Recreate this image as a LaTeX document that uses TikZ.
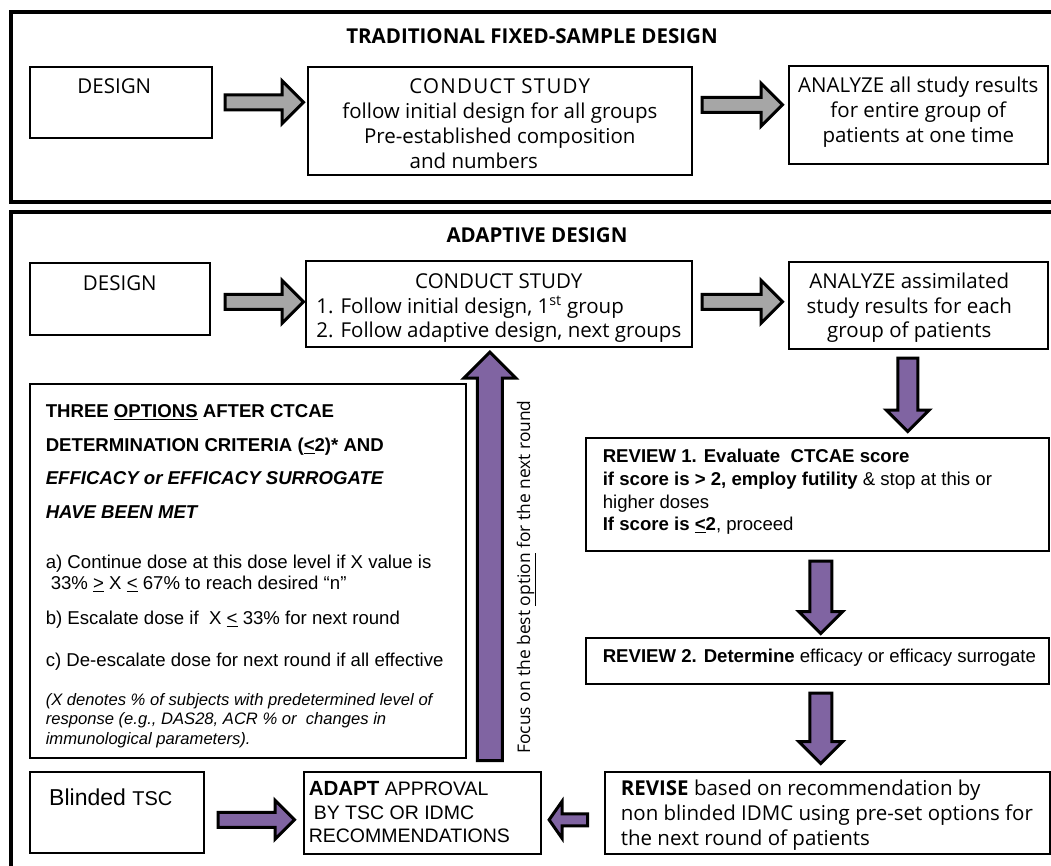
\documentclass[tikz,border=0pt]{standalone}
\usepackage{fontspec}
\setmainfont{Open Sans}
\newfontfamily\arial{Liberation Sans}
\usetikzlibrary{calc,shapes.arrows}

\definecolor{arrowgray}{RGB}{166,166,166}
\definecolor{arrowpurple}{RGB}{128,100,162}

% text block of a box: width, height, first baseline, text
\newcommand{\boxtext}[4]{\parbox[t][#2][t]{#1}{\rule{0pt}{#3}#4}}
\newcommand{\osize}{\fontsize{20.5}{25}\selectfont}
\newcommand{\asize}{\arial\fontsize{18.6}{22.7}\selectfont}

\begin{document}
\begin{tikzpicture}[x=1pt, y=-1pt,
    boxnode/.style={draw, line width=1.6pt, inner xsep=0pt, inner ysep=0pt, anchor=north west},
    frameline/.style={draw, line width=4pt},
    blockarrow/.style={to path={
        let \p1=(\tikztostart), \p2=(\tikztotarget),
            \n1={veclen(\x2-\x1,\y2-\y1)}, \n2={atan2(\y2-\y1,\x2-\x1)} in
        node[single arrow, draw=black, line width=3pt, inner sep=0pt, #1,
             minimum height=\n1, rotate=\n2, anchor=tail] at (\p1) {}}},
    grayarrow/.style={blockarrow={fill=arrowgray, inner ysep=6pt, single arrow head extend=14pt}}]
    \useasboundingbox (0,0) rectangle (1051,865);

    % Frames
    \draw[frameline] (11,12) rectangle (1070,202);
    \draw[frameline] (11,212) rectangle (1070,900);

    % Traditional fixed-sample design
    \node[anchor=base, font=\bfseries\osize] (title1) at (532,43) {TRADITIONAL FIXED-SAMPLE DESIGN};
    \node[boxnode] (d1) at (29,66) {\boxtext{182pt}{71pt}{27pt}{\centering\osize DESIGN\hspace*{13pt}}};
    \node[boxnode] (c1) at (307,66) {\boxtext{384pt}{108pt}{27pt}{\centering\osize
        {\addfontfeature{LetterSpace=6}CONDUCT STUDY}\hspace*{47pt}\\
        follow initial design for all groups\hspace*{18pt}\\
        Pre-established composition\hspace*{12pt}\\
        and numbers\hspace*{52pt}}};
    \node[boxnode] (a1) at (788,65) {\boxtext{259pt}{98pt}{27pt}{\centering\osize ANALYZE all study results\\
        for entire group of\\ patients at one time}};

    % Adaptive design
    \node[anchor=base, font=\bfseries\osize] (title2) at (537,242) {ADAPTIVE DESIGN};
    \node[boxnode] (d2) at (29,262) {\boxtext{180pt}{72pt}{28pt}{\centering\osize DESIGN}};
    \node[boxnode] (c2) at (305,260) {\boxtext{386pt}{86pt}{28pt}{\centering\fontsize{20.5}{24.5}\selectfont
        CONDUCT STUDY\hspace*{19pt}\\
        \begin{tabular}[t]{@{}l@{}}1. Follow initial design, 1\textsuperscript{st} group\\
        2. Follow adaptive design, next groups\end{tabular}}};
    \node[boxnode] (a2) at (788,261) {\boxtext{259pt}{87pt}{27pt}{\centering\advance\rightskip 18pt
        \fontsize{20.5}{24.5}\selectfont ANALYZE assimilated\\
        study results for each\\ group of patients}};

    \node[boxnode, inner xsep=16pt] (opt) at (29,383) {\boxtext{404pt}{374pt}{34pt}{\raggedright
        \arial\fontsize{18.6}{33.5}\selectfont\bfseries THREE \underline{OPTIONS} AFTER CTCAE\\
        DETERMINATION CRITERIA (\underline{<}2)* AND\\
        \itshape EFFICACY or EFFICACY SURROGATE\\
        HAVE BEEN MET\par\vspace{29pt}
        \fontsize{18.6}{21}\selectfont\mdseries\upshape a) Continue dose at this dose level if X value is\\
        \hspace*{5pt}33\% \underline{>} X \underline{<} 67\% to reach desired “n”\par\vspace{14pt}
        b) Escalate dose if\ \ X \underline{<} 33\% for next round\par\vspace{21pt}
        c) De-escalate dose for next round if all effective\par\vspace{19.5pt}
        \fontsize{16.6}{19.5}\selectfont\itshape (X denotes \% of subjects with predetermined level of\\
        response (e.g., DAS28, ACR \% or\ \ changes in\\ immunological parameters).}};

    \node[boxnode, inner xsep=17pt] (r1) at (585,437) {\boxtext{429pt}{113pt}{25pt}{\raggedright\asize
        \textbf{REVIEW 1. Evaluate\ \ CTCAE score}\\
        \textbf{if score is > 2, employ futility} \& stop at this or\\ higher doses\\
        \textbf{If score is \underline{<}2}, proceed}};
    \node[boxnode, inner xsep=17pt] (r2) at (585,637) {\boxtext{429pt}{46pt}{25pt}{\raggedright\asize
        \mbox{\textbf{REVIEW 2. Determine} efficacy or efficacy surrogate}}};

    \node[boxnode, inner xsep=16pt] (rev) at (604,771) {\boxtext{413pt}{82pt}{24pt}{\raggedright\osize
        \mbox{\textbf{REVISE} based on recommendation by}\\ \mbox{non blinded IDMC using pre-set options for}\\
        the next round of patients}};
    \node[boxnode, inner xsep=5pt] (adp) at (303,771) {\boxtext{227pt}{82pt}{24pt}{\raggedright
        \arial\fontsize{19.5}{23.5}\selectfont{\fontsize{20.5}{23.5}\selectfont\bfseries ADAPT} APPROVAL\\
        \hspace*{5pt}BY TSC OR IDMC\\ RECOMMENDATIONS}};
    \node[boxnode] (bts) at (29,771) {\boxtext{174pt}{81pt}{34pt}{\centering
        \arial\fontsize{23}{26}\selectfont Blinded {\fontsize{20}{26}\selectfont TSC}\hspace*{12pt}}};

    \node[rotate=90, anchor=base, font=\fontsize{17.4}{22}\selectfont] (focus) at (530,577)
        {Focus on the best \underline{option} for the next round};

    % Block arrows
    \path ($(d1.east)+(11,0)$) to[grayarrow] ($(c1.west)+(-5,-18.5)$);
    \path ($(c1.east)+(8,-16)$) to[grayarrow] ($(a1.west)+(-7,-10)$);
    \path ($(d2.east)+(13,3)$) to[grayarrow] ($(c2.west)+(-3,-2)$);
    \path ($(c2.east)+(8,-2)$) to[grayarrow] ($(a2.west)+(-7,-3.5)$);
    \path ($(a2.south)+(-10.5,7)$) to[blockarrow={fill=arrowpurple, inner ysep=8.5pt, single arrow head extend=11.5pt}] ($(r1.north)+(90.5,-7)$);
    \path ($(r1.south)+(3.5,8)$) to[blockarrow={fill=arrowpurple, inner ysep=9.5pt, single arrow head extend=11pt}] ($(r2.north)+(3.5,-5)$);
    \path ($(r2.south)+(3.5,7)$) to[blockarrow={fill=arrowpurple, inner ysep=9.5pt, single arrow head extend=11pt}] ($(rev.north)+(-6.5,-9)$);
    \path ($(rev.west)+(-15,7)$) to[blockarrow={fill=arrowpurple, inner ysep=4.5pt, single arrow head extend=12.5pt, single arrow tip angle=110}] ($(adp.east)+(9,7)$);
    \path ($(bts.east)+(12,7.5)$) to[blockarrow={fill=arrowpurple, inner ysep=6pt, single arrow head extend=12pt}] ($(adp.west)+(-10,7)$);
    \path ($(adp.north)+(67.5,-9)$) to[blockarrow={fill=arrowpurple, inner ysep=11pt, single arrow head extend=13.5pt}] ($(c2.south)+(-9,6)$);
\end{tikzpicture}
\end{document}
